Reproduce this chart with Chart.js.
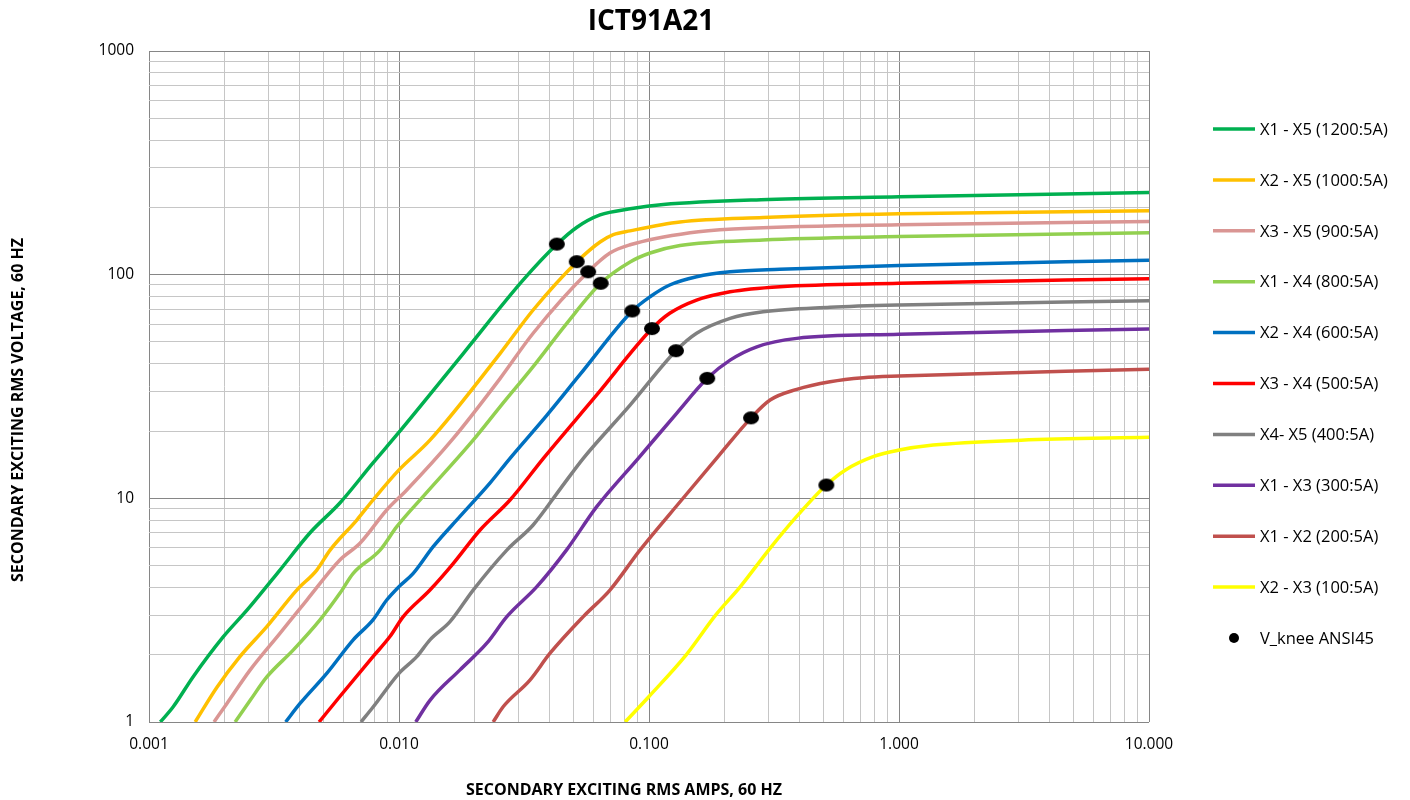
<!DOCTYPE html>
<html>
<head>
<meta charset="utf-8">
<script src="https://cdn.jsdelivr.net/npm/chart.js@4.4.1/dist/chart.umd.min.js"></script>
<style>
  html, body { margin: 0; padding: 0; background: #fff; }
</style>
</head>
<body>
<canvas id="ctChart" width="1410" height="800"></canvas>
<script>
const chartTitle = 'ICT91A21';
const xTitle = 'SECONDARY EXCITING RMS AMPS, 60 HZ';
const yTitle = 'SECONDARY EXCITING RMS VOLTAGE, 60 HZ';

const xTickLabels = ['0.001', '0.010', '0.100', '1.000', '10.000'];
const yTickLabels = ['1', '10', '100', '1000'];

const seriesNames = [
    'X1 - X5 (1200:5A)', 'X2 - X5 (1000:5A)', 'X3 - X5 (900:5A)', 'X1 - X4 (800:5A)',
    'X2 - X4 (600:5A)', 'X3 - X4 (500:5A)', 'X4- X5 (400:5A)', 'X1 - X3 (300:5A)',
    'X1 - X2 (200:5A)', 'X2 - X3 (100:5A)'
];
const seriesColors = [
    '#00B050', '#FFC000', '#DA9694', '#92D050', '#0070C0',
    '#FF0000', '#808080', '#7030A0', '#C0504D', '#FFFF00'
];
const kneeName = 'V_knee ANSI45';

// [amps, volts]
const x1x5 = [[0.00111,1],[0.00125,1.17],[0.0015,1.59],[0.00198,2.4],[0.00247,3.17],[0.00334,4.78],[0.0044,7.0],[0.0058,9.53],[0.00787,14.4],[0.00983,19.3],[0.0181,44.5],[0.0314,94.7],[0.0429,137],[0.0515,163],[0.0637,185],[0.084,197],[0.114,206],[0.3,217],[1.0,223],[10,233]];
const x2x5 = [[0.00153,1],[0.00187,1.43],[0.00231,1.96],[0.00296,2.67],[0.0039,3.89],[0.00469,4.78],[0.0053,5.87],[0.00678,8.0],[0.00787,9.83],[0.01,13.4],[0.0133,18.2],[0.0254,44.5],[0.0344,69.5],[0.0514,114],[0.0637,140],[0.072,151],[0.084,157],[0.133,172],[0.286,180],[1.0,187],[10,193]];
const x3x5 = [[0.00182,1],[0.00205,1.21],[0.00254,1.71],[0.00334,2.49],[0.00428,3.51],[0.0058,5.3],[0.00698,6.3],[0.00893,8.87],[0.01074,10.9],[0.01626,18.2],[0.0254,34.4],[0.0344,54.7],[0.0571,103],[0.0698,125],[0.084,136],[0.146,154],[0.217,160],[1.0,167],[10,173]];
const x1x4 = [[0.00221,1],[0.00254,1.25],[0.00296,1.59],[0.00378,2.1],[0.00483,2.86],[0.0058,3.76],[0.00656,4.62],[0.0084,5.87],[0.0098,7.47],[0.0125,10.2],[0.0198,18.2],[0.0254,25.7],[0.0344,38.8],[0.0469,60.6],[0.0641,91.5],[0.084,114],[0.101,125],[0.133,135],[0.286,143],[1.0,148],[10,154]];
const x2x4 = [[0.00352,1],[0.00402,1.21],[0.00514,1.65],[0.00656,2.33],[0.00787,2.86],[0.00893,3.51],[0.01,4.03],[0.0114,4.62],[0.0137,6.08],[0.0175,8.28],[0.0231,11.7],[0.0278,15.1],[0.039,23.5],[0.053,35.8],[0.0857,68.8],[0.101,79.7],[0.121,89.9],[0.155,97.9],[0.211,103],[0.334,105.7],[1.0,110],[10,116]];
const x3x4 = [[0.00479,1],[0.0058,1.3],[0.00787,1.96],[0.0092,2.41],[0.0104,2.96],[0.0133,3.89],[0.0165,5.12],[0.0211,7.22],[0.0278,9.83],[0.0378,15.1],[0.0618,29],[0.1028,57.4],[0.121,67.2],[0.155,77],[0.211,83.9],[0.334,88.4],[1.0,91.5],[10,96]];
const x4x5 = [[0.00705,1],[0.00789,1.17],[0.01,1.65],[0.01178,1.96],[0.0133,2.33],[0.016,2.81],[0.0198,3.89],[0.027,5.87],[0.0344,7.6],[0.0441,11.0],[0.0546,15.1],[0.084,26.1],[0.1282,45.7],[0.155,54.7],[0.211,63.8],[0.286,68.3],[0.53,71.5],[1.0,73.2],[10,76.5]];
const x1x3 = [[0.01167,1],[0.0133,1.25],[0.01754,1.71],[0.02245,2.25],[0.027,2.96],[0.0356,4.03],[0.0469,5.9],[0.0618,9.18],[0.0906,15.1],[0.129,24],[0.171,34.4],[0.211,41.5],[0.27,47.6],[0.39,51.9],[1.0,54.1],[10,57.2]];
const x1x2 = [[0.0238,1],[0.0261,1.17],[0.0334,1.54],[0.0402,2.03],[0.0546,2.96],[0.0698,3.89],[0.092,5.87],[0.135,9.83],[0.191,15.6],[0.256,22.9],[0.305,27.5],[0.39,30.7],[0.53,33.2],[0.719,34.6],[1.0,35.2],[10,37.8]];
const x2x3 = [[0.0803,1],[0.1,1.3],[0.1406,1.99],[0.185,3.01],[0.232,4.03],[0.301,5.87],[0.389,8.28],[0.512,11.47],[0.611,13.4],[0.793,15.4],[0.99,16.4],[1.37,17.3],[3.08,18.2],[10,18.75]];

const kneeAmps = [0.0428, 0.0514, 0.0571, 0.0641, 0.0857, 0.1028, 0.1282, 0.171, 0.256, 0.512];
const kneeVolts = [137, 114.3, 103, 91.5, 68.8, 57.4, 45.7, 34.4, 22.9, 11.47];

const allSeries = [x1x5, x2x5, x3x5, x1x4, x2x4, x3x4, x4x5, x1x3, x1x2, x2x3];

const decades = (lo, hi) => {
    const out = [];
    for (let e = lo; e <= hi; e++) {
        for (let m = 1; m <= 9; m++) {
            if (e === hi && m > 1) break;
            out.push(+(m * Math.pow(10, e)).toPrecision(3));
        }
    }
    return out;
};
const xGrid = decades(-3, 1);
const yGrid = decades(0, 3);
const isDecade = v => Math.abs(Math.log10(v) - Math.round(Math.log10(v))) < 1e-6;

const dot = document.createElement('canvas');
dot.width = 18;
dot.height = 15;
const dctx = dot.getContext('2d');
dctx.fillStyle = '#000';
dctx.beginPath();
dctx.ellipse(9, 7.5, 8, 6.5, 0, 0, Math.PI * 2);
dctx.fill();

const datasets = allSeries.map((pts, i) => ({
    label: seriesNames[i],
    data: pts.map(p => ({ x: p[0], y: p[1] })),
    borderColor: seriesColors[i],
    backgroundColor: seriesColors[i],
    borderWidth: 3.5,
    pointRadius: 0,
    showLine: true,
    fill: false,
    cubicInterpolationMode: 'monotone'
}));
datasets.push({
    label: kneeName,
    data: kneeAmps.map((a, i) => ({ x: a, y: kneeVolts[i] })),
    pointStyle: dot,
    pointRadius: 8,
    showLine: false,
    order: -1
});

const FONT = '"Open Sans", "Noto Sans", sans-serif';

const textPlugin = {
    id: 'textPlugin',
    afterDraw(chart) {
        const c = chart.ctx;
        c.save();
        c.fillStyle = '#000';
        c.textAlign = 'center';
        c.textBaseline = 'middle';
        c.font = 'bold 28px ' + FONT;
        c.fillText(chartTitle, 651, 22);
        c.font = 'bold 16px ' + FONT;
        c.fillText(xTitle, 624, 790);
        c.save();
        c.translate(18, 410);
        c.rotate(-Math.PI / 2);
        c.fillText(yTitle, 0, 0);
        c.restore();

        // legend
        const top = 129, gap = 50.9;
        c.textAlign = 'left';
        c.font = '16.5px ' + FONT;
        seriesNames.forEach((name, i) => {
            const y = top + i * gap;
            c.strokeStyle = seriesColors[i];
            c.lineWidth = 3.5;
            c.beginPath();
            c.moveTo(1213, y);
            c.lineTo(1255, y);
            c.stroke();
            c.fillStyle = '#000';
            c.fillText(name, 1260, y + 1);
        });
        const ky = top + seriesNames.length * gap;
        c.beginPath();
        c.arc(1234, ky, 5, 0, Math.PI * 2);
        c.fill();
        c.fillText(kneeName, 1260, ky + 1);
        c.restore();
    }
};

new Chart(document.getElementById('ctChart'), {
    type: 'scatter',
    data: { datasets },
    options: {
        responsive: false,
        animation: false,
        layout: { padding: { left: 89, right: 261, top: 51, bottom: 38 } },
        plugins: {
            legend: { display: false },
            tooltip: { enabled: false }
        },
        scales: {
            x: {
                type: 'logarithmic',
                min: 0.001,
                max: 10,
                afterBuildTicks: s => { s.ticks = xGrid.map(v => ({ value: v })); },
                afterFit: s => { s.height = 40; },
                border: { display: false },
                grid: {
                    color: ctx => isDecade(ctx.tick.value) ? '#868686' : '#c6c6c6',
                    drawTicks: false
                },
                ticks: {
                    autoSkip: false,
                    maxRotation: 0,
                    padding: 13,
                    color: '#000',
                    font: { family: FONT, size: 15.5 },
                    callback: v => isDecade(v) ? xTickLabels[Math.round(Math.log10(v)) + 3] : ''
                }
            },
            y: {
                type: 'logarithmic',
                min: 1,
                max: 1000,
                afterBuildTicks: s => { s.ticks = yGrid.map(v => ({ value: v })); },
                afterFit: s => { s.width = 60; },
                border: { display: false },
                grid: {
                    color: ctx => isDecade(ctx.tick.value) ? '#868686' : '#c6c6c6',
                    drawTicks: false
                },
                ticks: {
                    autoSkip: false,
                    padding: 15,
                    color: '#000',
                    font: { family: FONT, size: 15.5 },
                    callback: v => isDecade(v) ? yTickLabels[Math.round(Math.log10(v))] : ''
                }
            }
        }
    },
    plugins: [textPlugin]
});
</script>
</body>
</html>
